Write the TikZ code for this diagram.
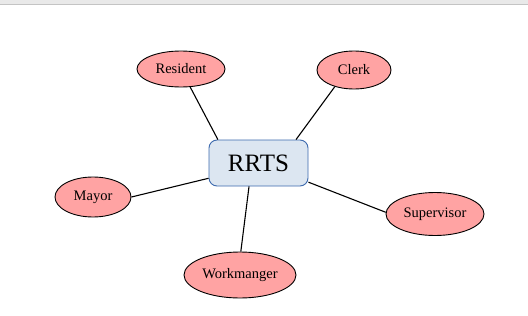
\documentclass[tikz,border=0pt]{standalone}
\usepackage{fontspec}
\setmainfont{Liberation Serif}
\usetikzlibrary{shapes.geometric}
\definecolor{rolefill}{HTML}{FFA3A3}
\definecolor{hubfill}{HTML}{DCE6F1}
\definecolor{hubline}{HTML}{3D6AAE}
\definecolor{barfill}{HTML}{E9E9E9}
\definecolor{barline}{HTML}{C4C4C4}
\tikzset{
  role/.style={ellipse, draw=black, line width=0.9pt, fill=rolefill, inner sep=0pt,
    font=\fontsize{14.5}{16}\selectfont},
  hub/.style={rectangle, rounded corners=8pt, draw=hubline, line width=0.9pt, fill=hubfill,
    minimum width=99pt, minimum height=46pt, font=\fontsize{25}{28}\selectfont},
  link/.style={line width=1.1pt, black}
}
\begin{document}
\begin{tikzpicture}[x=1pt,y=-1pt]
\useasboundingbox (0,0) rectangle (528,316);
\fill[white] (0,0) rectangle (528,316);
% window strip along the top
\fill[barfill] (0,0) rectangle (528,4);
\draw[barline, line width=1.2pt] (0,4.6) -- (528,4.6);

\node[hub] (rrts) at (258.5,163) {RRTS};

\node[role, minimum width=88pt, minimum height=36pt] (resident) at (181,69) {Resident};
\node[role, minimum width=74pt, minimum height=38pt] (clerk) at (354,70) {Clerk};
\node[role, minimum width=76pt, minimum height=40pt] (mayor) at (93,197) {Mayor};
\node[role, minimum width=98pt, minimum height=43pt] (supervisor) at (435,214) {Supervisor};
\node[role, minimum width=112pt, minimum height=46pt] (workmanger) at (240,275) {Workmanger};

\draw[link] (resident.-63) -- (rrts.150);
\draw[link] (clerk.221) -- (rrts.32);
\draw[link] (mayor.0) -- (rrts.197);
\draw[link] (supervisor.178) -- (rrts.339);
\draw[link] (workmanger.88) -- (rrts.248);
\end{tikzpicture}
\end{document}
